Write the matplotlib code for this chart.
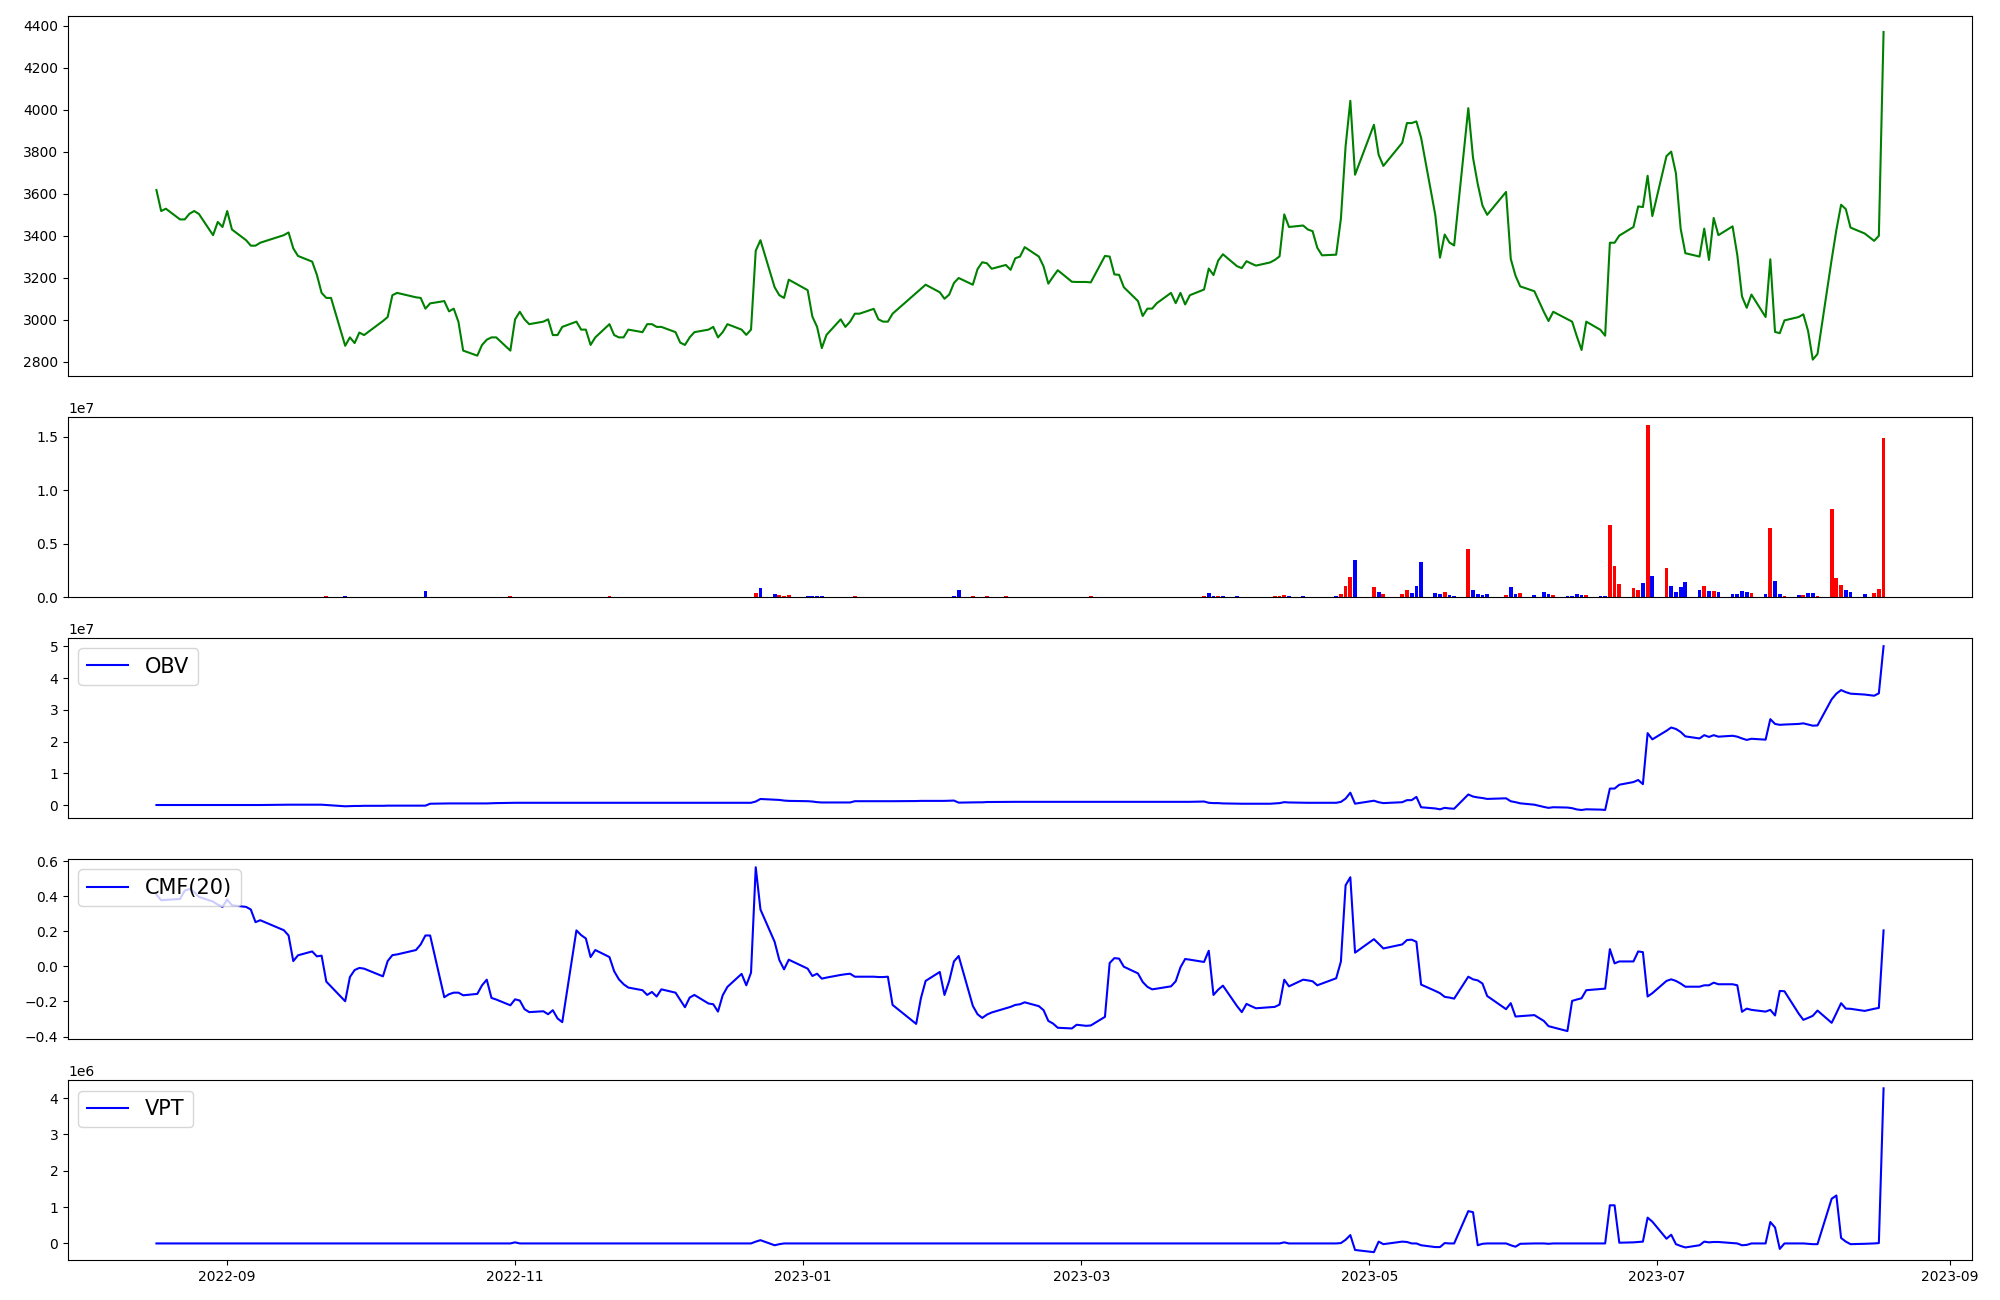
"""
Price / volume indicator panels: close, volume, OBV, CMF(20), VPT
"""
import numpy as np
import pandas as pd
import matplotlib
matplotlib.use("Agg")
import matplotlib.pyplot as plt
import matplotlib.dates as mdates

# trading calendar (KRX), market holidays inside the range
start_date = "2022-08-17"
end_date = "2023-08-18"
holidays = ["2022-09-09", "2022-09-12", "2022-10-03", "2022-10-10", "2022-12-30",
            "2023-01-23", "2023-01-24", "2023-03-01", "2023-05-01", "2023-05-05",
            "2023-05-29", "2023-06-06", "2023-08-15"]

# closing price, one line per month
close = [
    3617, 3517, 3528, 3477, 3477, 3504, 3517, 3503, 3402, 3465, 3441,
    3517, 3429, 3378, 3352, 3352, 3366, 3402, 3415, 3339, 3303, 3276, 3213, 3127, 3103, 3103, 2875, 2915, 2888, 2938, 2926,
    2993, 3012, 3116, 3127, 3106, 3103, 3052, 3077, 3088, 3039, 3052, 2989, 2852, 2828, 2879, 2904, 2915, 2915, 2852,
    3001, 3037, 3001, 2978, 2990, 3001, 2926, 2926, 2965, 2990, 2952, 2952, 2879, 2915, 2978, 2926, 2915, 2915, 2952, 2940, 2978, 2978,
    2965, 2965, 2940, 2890, 2879, 2915, 2940, 2952, 2965, 2915, 2940, 2978, 2952, 2927, 2952, 3328, 3378, 3154, 3116, 3103, 3190,
    3140, 3014, 2965, 2864, 2927, 3001, 2965, 2990, 3028, 3028, 3051, 3001, 2990, 2990, 3028, 3127, 3147, 3166, 3130, 3099,
    3119, 3174, 3198, 3166, 3240, 3273, 3268, 3242, 3260, 3237, 3292, 3300, 3345, 3300, 3253, 3171, 3204, 3235, 3180, 3179,
    3179, 3177, 3303, 3300, 3215, 3213, 3154, 3088, 3017, 3052, 3052, 3078, 3127, 3078, 3127, 3072, 3116, 3143, 3243, 3212, 3281, 3311,
    3254, 3245, 3278, 3267, 3257, 3272, 3284, 3301, 3501, 3441, 3448, 3429, 3421, 3342, 3306, 3309, 3480, 3826, 4042, 3690,
    3928, 3785, 3732, 3842, 3936, 3936, 3944, 3866, 3499, 3295, 3405, 3367, 3353, 4007, 3771, 3646, 3543, 3499, 3608, 3289,
    3209, 3158, 3135, 3037, 2993, 3037, 3002, 2990, 2920, 2855, 2990, 2951, 2923, 3366, 3366, 3400, 3441, 3539, 3536, 3685, 3493,
    3779, 3800, 3696, 3433, 3316, 3300, 3433, 3284, 3484, 3402, 3444, 3308, 3110, 3056, 3119, 3012, 3287, 2941, 2935, 2996, 3012,
    3025, 2946, 2809, 2836, 3286, 3427, 3547, 3526, 3438, 3410, 3375, 3399, 4370,
]

# volume in millions of shares
volume_m = [
    0, 0, 0, 0, 0, 0, 0, 0, 0, 0, 0,
    0, 0, 0, 0, 0, 0, 0, 0, 0, 0, 0, 0, 0, 0.1, 0, 0.1, 0, 0, 0, 0,
    0, 0, 0, 0, 0, 0, 0.56, 0, 0, 0, 0, 0, 0, 0, 0, 0, 0, 0, 0.1,
    0, 0, 0, 0, 0, 0, 0, 0, 0, 0, 0, 0, 0, 0, 0.1, 0, 0, 0, 0, 0, 0, 0,
    0, 0, 0, 0, 0, 0, 0, 0, 0, 0, 0, 0, 0, 0, 0, 0.37, 0.84, 0.28, 0.19, 0.1, 0.19,
    0.1, 0.1, 0.1, 0.1, 0, 0, 0, 0, 0.1, 0, 0, 0, 0, 0, 0, 0, 0, 0, 0, 0,
    0, 0.1, 0.65, 0.1, 0, 0, 0.1, 0, 0.1, 0, 0, 0, 0, 0, 0, 0, 0, 0, 0, 0,
    0, 0.1, 0, 0, 0, 0, 0, 0, 0, 0, 0, 0, 0, 0, 0, 0, 0, 0.1, 0.37, 0.1, 0.1, 0.1,
    0.1, 0, 0, 0, 0, 0, 0.1, 0.1, 0.19, 0.1, 0.1, 0, 0, 0, 0, 0.1, 0.28, 1.03, 1.87, 3.46,
    0.93, 0.47, 0.28, 0.28, 0.65, 0.37, 1.03, 3.27, 0.37, 0.28, 0.47, 0.19, 0.09, 4.49, 0.65, 0.28, 0.19, 0.28, 0.19, 0.93,
    0.28, 0.37, 0.19, 0.47, 0.28, 0.19, 0.09, 0.09, 0.28, 0.19, 0.19, 0.09, 0.09, 6.73, 2.90, 1.21, 0.84, 0.65, 1.31, 16.07, 1.96,
    2.71, 1.03, 0.47, 0.93, 1.40, 0.65, 1.03, 0.56, 0.56, 0.47, 0.28, 0.28, 0.56, 0.47, 0.37, 0.28, 6.45, 1.50, 0.28, 0.09, 0.19,
    0.19, 0.37, 0.37, 0.09, 8.22, 1.78, 1.12, 0.65, 0.47, 0.28, 0.37, 0.75, 14.86,
]

# bar colour per day: r = red, b = blue
bar_codes = (
    "rrrrrrrrrrr"
    "rrrrrrrrrrrrrrrbrrrr"
    "rrrrrrbrrrrrrrrrrrr"
    "rrrrrrrrrrrrrrrrrrrrrr"
    "rrrrrrrrrrrrrrrrbbrrr"
    "bbbbrrrrrrrrrrrrrrrr"
    "rbbrrrrrrrrrrrrrrrrr"
    "rrrrrrrrrrrrrrrrrrbbrb"
    "brrrrrrrrbbrrrrbrrrb"
    "rbrrrbbbbbrbbrbbbbrb"
    "brbbbrbbbbrbbrrrrrbrb"
    "rbbbbbrbrbbbbbrbrbbrb"
    "rbbrrrrbbbrrr"
)

# on balance volume, millions
obv_m = [
    0, 0, 0, 0, 0, 0, 0, 0, 0, 0, 0,
    0, 0, 0, 0, 0, 0, 0.1, 0.1, 0.1, 0.1, 0.1, 0.1, 0.1, 0.0, -0.1, -0.4, -0.35, -0.3, -0.3, -0.25,
    -0.25, -0.2, -0.2, -0.2, -0.2, -0.2, -0.2, 0.4, 0.5, 0.5, 0.5, 0.5, 0.5, 0.5, 0.5, 0.5, 0.55, 0.6, 0.7,
    0.7, 0.7, 0.7, 0.7, 0.7, 0.7, 0.7, 0.7, 0.7, 0.7, 0.7, 0.7, 0.7, 0.7, 0.7, 0.7, 0.7, 0.7, 0.7, 0.7, 0.7, 0.7,
    0.7, 0.7, 0.7, 0.7, 0.7, 0.7, 0.7, 0.7, 0.7, 0.7, 0.7, 0.7, 0.7, 0.7, 0.7, 1.1, 1.9, 1.7, 1.6, 1.4, 1.3,
    1.2, 1.1, 0.9, 0.8, 0.8, 0.8, 0.8, 0.8, 1.2, 1.2, 1.2, 1.2, 1.2, 1.2, 1.2, 1.25, 1.3, 1.3, 1.3, 1.3,
    1.35, 1.4, 0.75, 0.85, 0.85, 0.85, 0.95, 0.95, 1.0, 1.0, 1.0, 1.0, 1.0, 1.0, 1.0, 1.0, 1.0, 1.0, 1.0, 1.0,
    1.0, 1.0, 1.0, 1.0, 1.0, 1.0, 1.0, 1.0, 1.0, 1.0, 1.0, 1.0, 1.0, 1.0, 1.0, 1.0, 1.0, 1.1, 0.7, 0.6, 0.6, 0.5,
    0.4, 0.4, 0.4, 0.4, 0.4, 0.4, 0.5, 0.6, 0.9, 0.8, 0.7, 0.7, 0.7, 0.7, 0.7, 0.7, 0.98, 2.01, 3.88, 0.42,
    1.35, 0.88, 0.60, 0.88, 1.53, 1.53, 2.56, -0.71, -1.08, -1.36, -0.89, -1.08, -1.17, 3.32, 2.67, 2.39, 2.20, 1.92, 2.11, 1.18,
    0.90, 0.53, 0.10, -0.60, -0.90, -0.70, -0.80, -1.00, -1.40, -1.57, -1.35, -1.45, -1.55, 5.18, 5.18, 6.39, 7.23, 7.88, 6.57, 22.64, 20.68,
    23.39, 24.42, 23.95, 23.02, 21.62, 20.97, 22.00, 21.44, 22.00, 21.53, 21.81, 21.53, 20.97, 20.50, 20.87, 20.59, 27.04, 25.54, 25.26, 25.35, 25.54,
    25.73, 25.36, 24.99, 25.08, 33.30, 35.08, 36.20, 35.55, 35.08, 34.80, 34.43, 35.18, 50.04,
]

# Chaikin money flow, 20 days
cmf20 = [
    0.409, 0.377, 0.379, 0.384, 0.432, 0.441, 0.424, 0.396, 0.369, 0.352, 0.339,
    0.381, 0.348, 0.339, 0.324, 0.252, 0.263, 0.206, 0.176, 0.030, 0.063, 0.085, 0.057, 0.061, -0.087, -0.115, -0.199, -0.061, -0.021, -0.009, -0.013,
    -0.057, 0.030, 0.064, 0.068, 0.093, 0.125, 0.176, 0.176, -0.176, -0.159, -0.150, -0.150, -0.165, -0.157, -0.108, -0.076, -0.180, -0.189, -0.222,
    -0.188, -0.195, -0.244, -0.261, -0.256, -0.273, -0.250, -0.297, -0.318, 0.205, 0.178, 0.159, 0.053, 0.093, 0.053, -0.028, -0.074, -0.102, -0.121, -0.136, -0.163, -0.146,
    -0.172, -0.131, -0.150, -0.191, -0.233, -0.178, -0.163, -0.212, -0.216, -0.258, -0.165, -0.117, -0.043, -0.108, -0.036, 0.565, 0.324, 0.140, 0.036, -0.017, 0.038,
    -0.013, -0.055, -0.042, -0.070, -0.064, -0.049, -0.045, -0.042, -0.059, -0.059, -0.059, -0.061, -0.061, -0.059, -0.220, -0.328, -0.182, -0.083, -0.032, -0.163,
    -0.083, 0.028, 0.059, -0.225, -0.273, -0.294, -0.275, -0.263, -0.239, -0.231, -0.220, -0.216, -0.205, -0.227, -0.250, -0.311, -0.326, -0.350, -0.354, -0.333,
    -0.339, -0.337, -0.288, 0.019, 0.047, 0.044, -0.002, -0.040, -0.089, -0.117, -0.131, -0.127, -0.114, -0.085, -0.006, 0.042, 0.038, 0.025, 0.089, -0.163, -0.133, -0.110,
    -0.227, -0.261, -0.214, -0.227, -0.239, -0.233, -0.231, -0.218, -0.076, -0.114, -0.076, -0.080, -0.085, -0.108, -0.098, -0.068, 0.027, 0.462, 0.508, 0.078,
    0.155, 0.129, 0.102, 0.125, 0.150, 0.152, 0.140, -0.104, -0.140, -0.153, -0.174, -0.178, -0.184, -0.059, -0.074, -0.080, -0.098, -0.169, -0.244, -0.210,
    -0.286, -0.284, -0.278, -0.311, -0.341, -0.348, -0.369, -0.197, -0.189, -0.182, -0.136, -0.129, -0.127, 0.098, 0.017, 0.028, 0.028, 0.085, 0.081, -0.172, -0.153,
    -0.083, -0.074, -0.083, -0.098, -0.116, -0.116, -0.108, -0.108, -0.093, -0.102, -0.102, -0.108, -0.259, -0.241, -0.248, -0.258, -0.248, -0.280, -0.140, -0.142, -0.269,
    -0.305, -0.294, -0.282, -0.252, -0.322, -0.267, -0.210, -0.241, -0.242, -0.254, -0.242, -0.237, 0.205,
]

# volume price trend, millions
vpt_m = [
    0, 0, 0, 0, 0, 0, 0, 0, 0, 0, 0,
    0, 0, 0, 0, 0, 0, 0, 0, 0, 0, 0, 0, 0, 0, 0, 0, 0, 0, 0, 0,
    0, 0, 0, 0, 0, 0, 0, 0, 0, 0, 0, 0, 0, 0, 0, 0, 0, 0, 0,
    0.03, 0, 0, 0, 0, 0, 0, 0, 0, 0, 0, 0, 0, 0, 0, 0, 0, 0, 0, 0, 0, 0,
    0, 0, 0, 0, 0, 0, 0, 0, 0, 0, 0, 0, 0, 0, 0, 0.05, 0.09, -0.05, -0.02, 0, 0,
    0, 0, 0, 0, 0, 0, 0, 0, 0, 0, 0, 0, 0, 0, 0, 0, 0, 0, 0, 0,
    0, 0, 0, 0, 0, 0, 0, 0, 0, 0, 0, 0, 0, 0, 0, 0, 0, 0, 0, 0,
    0, 0, 0, 0, 0, 0, 0, 0, 0, 0, 0, 0, 0, 0, 0, 0, 0, 0, 0, 0, 0, 0,
    0, 0, 0, 0, 0, 0, 0, 0, 0.03, 0, 0, 0, 0, 0, 0, 0, 0.01, 0.10, 0.23, -0.18,
    -0.24, 0.05, -0.02, 0.05, 0.04, 0, 0, -0.05, -0.10, -0.10, 0.01, 0, 0, 0.89, 0.86, -0.05, -0.01, 0, 0, -0.05,
    -0.09, -0.01, 0, 0, -0.01, 0, 0, 0, 0, 0, 0, 0, 0, 1.05, 1.05, 0.02, 0.03, 0.04, 0.05, 0.71, 0.60,
    0.13, 0.24, -0.02, -0.07, -0.11, -0.05, 0.05, 0.03, 0.04, 0.04, 0.01, 0, -0.05, -0.04, 0, 0, 0.59, 0.44, -0.15, 0, 0,
    0, -0.01, -0.02, -0.02, 1.23, 1.32, 0.15, 0.05, -0.02, -0.01, 0, 0.01, 4.27,
]


def main():
    dates = pd.bdate_range(start_date, end_date)
    dates = dates[~dates.isin(pd.to_datetime(holidays))]
    n = len(dates)
    assert n == len(close) == len(volume_m) == len(bar_codes) == len(obv_m) == len(cmf20) == len(vpt_m)

    colors = ['red' if c == 'r' else 'blue' for c in bar_codes]

    fig, axes = plt.subplots(5, 1, figsize=(20, 13), sharex=True,
                             gridspec_kw={'height_ratios': [2, 1, 1, 1, 1]})
    ax_price, ax_vol, ax_obv, ax_cmf, ax_vpt = axes

    # price
    ax_price.plot(dates, close, color='green')

    # volume bars
    ax_vol.bar(dates, np.array(volume_m) * 1e6, color=colors)

    # indicators
    ax_obv.plot(dates, np.array(obv_m) * 1e6, color='blue', label='OBV')
    ax_obv.legend(loc='upper left', fontsize=15)

    ax_cmf.plot(dates, cmf20, color='blue', label='CMF(20)')
    ax_cmf.legend(loc='upper left', fontsize=15)

    ax_vpt.plot(dates, np.array(vpt_m) * 1e6, color='blue', label='VPT')
    ax_vpt.legend(loc='upper left', fontsize=15)

    for ax in axes[:-1]:
        ax.tick_params(axis='x', bottom=False, labelbottom=False)

    ax_vpt.xaxis.set_major_locator(mdates.MonthLocator(bymonth=[1, 3, 5, 7, 9, 11]))
    ax_vpt.xaxis.set_major_formatter(mdates.DateFormatter('%Y-%m'))

    plt.subplots_adjust(left=0.034, right=0.986, top=0.988, bottom=0.0305, hspace=0.189)
    fig.savefig('out.png', dpi=100)


if __name__ == "__main__":
    main()
